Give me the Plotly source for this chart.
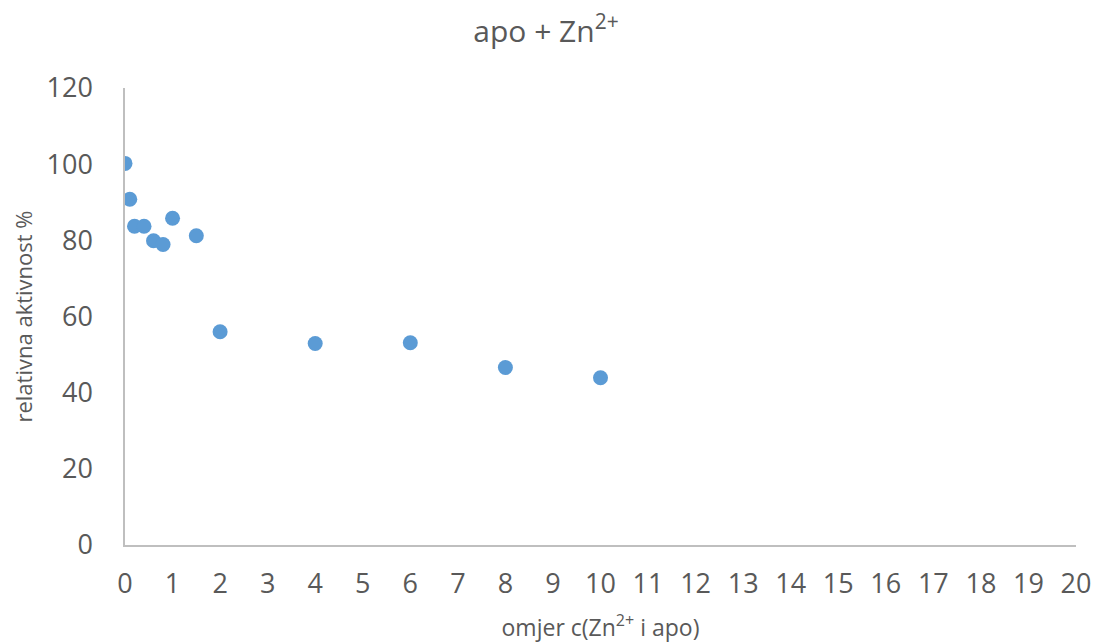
import plotly.graph_objects as go

ratio = [0, 0.1, 0.2, 0.4, 0.6, 0.8, 1.0, 1.5, 2, 4, 6, 8, 10]
activity = [100.2, 90.8, 83.7, 83.7, 79.9, 78.9, 85.8, 81.2, 56.0, 52.9, 53.1, 46.6, 43.9]

x_ticks = list(range(0, 21))
y_ticks = [0, 20, 40, 60, 80, 100, 120]

FONT = "Open Sans"
TXT = "#595959"
AX = "#BFBFBF"

fig = go.Figure()
fig.add_trace(go.Scatter(
    x=ratio, y=activity, mode="markers",
    marker=dict(color="#5B9BD5", size=15, line=dict(width=0)),
    showlegend=False,
))

# page body has an 8px margin, so the figure is sized/offset to compensate
fig.update_layout(
    width=1091, height=635,
    paper_bgcolor="white", plot_bgcolor="white",
    margin=dict(l=117, r=23, t=80, b=98),
    font=dict(family=FONT, color=TXT),
    title=dict(text="apo + Zn<sup>2+</sup>", x=538 / 1091, xanchor="center",
               y=1 - 23 / 635, yanchor="middle",
               font=dict(family=FONT, size=30, color=TXT)),
    xaxis=dict(
        range=[0, 20], tickvals=x_ticks, ticktext=[str(v) for v in x_ticks],
        showgrid=False, zeroline=False, showline=True, linecolor=AX, linewidth=1.5,
        ticks="outside", ticklen=14, tickcolor="rgba(0,0,0,0)",
        tickfont=dict(family=FONT, size=27, color=TXT),
        automargin=False,
        title=dict(text="omjer c(Zn<sup>2+</sup> i apo)", standoff=30,
                   font=dict(family=FONT, size=23, color=TXT)),
    ),
    yaxis=dict(
        range=[0, 120], tickvals=y_ticks, ticktext=[str(v) for v in y_ticks],
        showgrid=False, zeroline=False, showline=True, linecolor=AX, linewidth=1.5,
        ticks="outside", ticklen=25, tickcolor="rgba(0,0,0,0)",
        tickfont=dict(family=FONT, size=27, color=TXT),
        automargin=False,
        title=dict(text="relativna aktivnost %", standoff=8,
                   font=dict(family=FONT, size=22, color=TXT)),
    ),
)

fig.write_html("out.html")
